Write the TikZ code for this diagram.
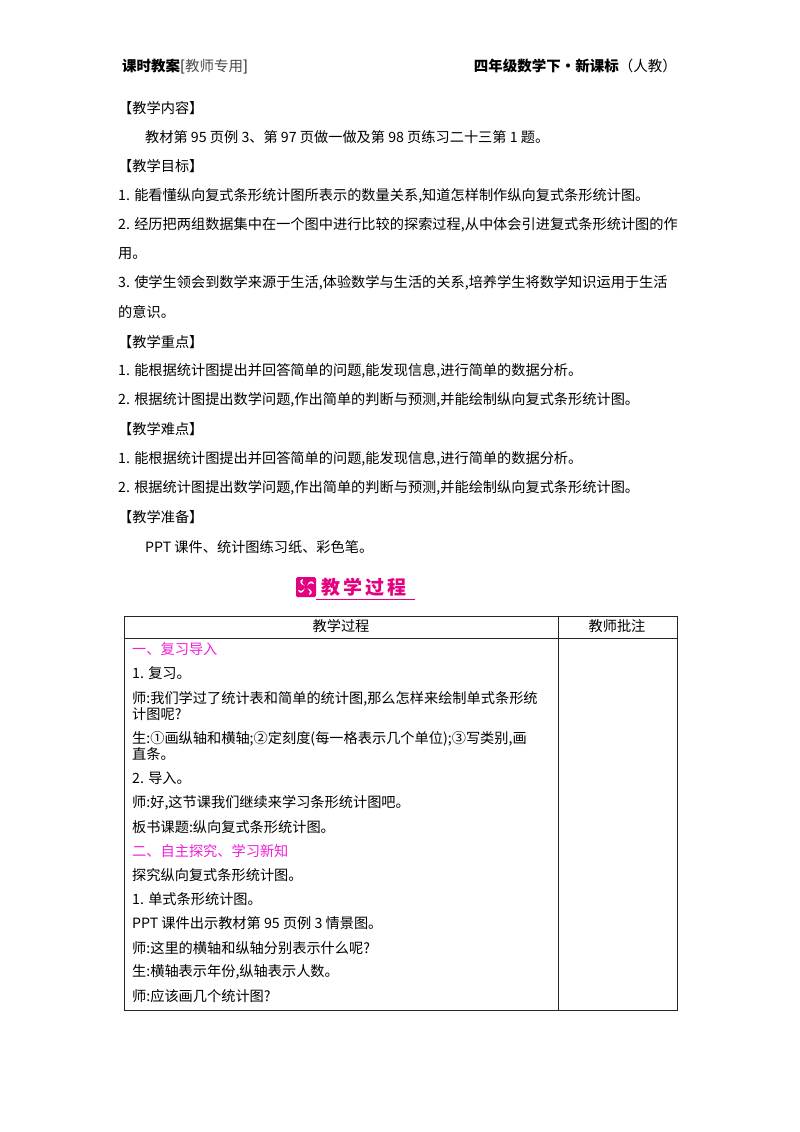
\documentclass[tikz,border=0pt]{standalone}
\usepackage{fontspec}
\setmainfont{Noto Sans CJK SC}
\definecolor{mag}{HTML}{E4007F}
\definecolor{pinkt}{HTML}{F020D8}
\begin{document}
\begin{tikzpicture}[x=1pt,y=-1pt,
  txt/.style={anchor=west,inner sep=0pt,font=\fontsize{14.2}{16.5}\selectfont},
  cell/.style={txt,align=left},
  sect/.style={txt,text=pinkt},
  hd/.style={anchor=west,inner sep=0pt,font=\fontsize{14.5}{16}\selectfont},
  rule/.style={line width=0.8pt,black!85}]
\useasboundingbox[fill=white] (0,0) rectangle (800,1132);
% header
\node[hd] (h1) at (122,66) {\textbf{课时教案}[{\color{black!70}教师专用}]};
\node[hd,anchor=east] (h2) at (677,66) {\textbf{四年级数学下·新课标}（人教）};
% body
\node[txt] (a1) at (118,108) {【教学内容】};
\node[txt] (a2) at (145,137) {教材第 95 页例 3、第 97 页做一做及第 98 页练习二十三第 1 题。};
\node[txt] (a3) at (118,166) {【教学目标】};
\node[txt] (a4) at (118,196) {1. 能看懂纵向复式条形统计图所表示的数量关系,知道怎样制作纵向复式条形统计图。};
\node[txt] (a5) at (118,225) {2. 经历把两组数据集中在一个图中进行比较的探索过程,从中体会引进复式条形统计图的作};
\node[txt] (a6) at (118,254) {用。};
\node[txt] (a7) at (118,283) {3. 使学生领会到数学来源于生活,体验数学与生活的关系,培养学生将数学知识运用于生活};
\node[txt] (a8) at (118,312) {的意识。};
\node[txt] (a9) at (118,342) {【教学重点】};
\node[txt] (a10) at (118,371) {1. 能根据统计图提出并回答简单的问题,能发现信息,进行简单的数据分析。};
\node[txt] (a11) at (118,400) {2. 根据统计图提出数学问题,作出简单的判断与预测,并能绘制纵向复式条形统计图。};
\node[txt] (a12) at (118,429) {【教学难点】};
\node[txt] (a13) at (118,459) {1. 能根据统计图提出并回答简单的问题,能发现信息,进行简单的数据分析。};
\node[txt] (a14) at (118,488) {2. 根据统计图提出数学问题,作出简单的判断与预测,并能绘制纵向复式条形统计图。};
\node[txt] (a15) at (118,517) {【教学准备】};
\node[txt] (a16) at (145,547) {PPT 课件、统计图练习纸、彩色笔。};
% title logo
\fill[mag,rounded corners=1.5pt] (296,577) rectangle (316,597);
\begin{scope}[shift={(306,587)}]
 \foreach \a in {0,90,180,270}{
  \fill[white,rotate=\a] (1,-1) .. controls (3,-7) and (7,-7) .. (8,-3) .. controls (6,-5) and (3,-4) .. (1,-1);}
 \fill[mag] (0,0) circle (1.5);
\end{scope}
\node[anchor=west,inner sep=0pt,text=mag,font=\fontsize{19}{20}\selectfont\bfseries] (ttl) at (321,587) {教\,学\,过\,程};
\draw[mag,line width=0.9pt] (316,599) -- (415,599);
% table
\draw[rule] (124,616) rectangle (677,1010);
\draw[rule] (124,638) -- (677,638);
\draw[rule] (558,616) -- (558,1010);
\node[txt,anchor=center] (c1) at (341,626) {教学过程};
\node[txt,anchor=center] (c2) at (617,626) {教师批注};
\node[sect] (t1) at (132,649) {一、复习导入};
\node[cell] (t2) at (132,673) {1. 复习。};
\node[cell] (t3) at (132,706) {师:我们学过了统计表和简单的统计图,那么怎样来绘制单式条形统\\计图呢?};
\node[cell] (t4) at (132,746) {生:①画纵轴和横轴;②定刻度(每一格表示几个单位);③写类别,画\\直条。};
\node[cell] (t5) at (132,778) {2. 导入。};
\node[cell] (t6) at (132,803) {师:好,这节课我们继续来学习条形统计图吧。};
\node[cell] (t7) at (132,827) {板书课题:纵向复式条形统计图。};
\node[sect] (t8) at (132,851) {二、自主探究、学习新知};
\node[cell] (t9) at (132,875) {探究纵向复式条形统计图。};
\node[cell] (t10) at (132,899) {1. 单式条形统计图。};
\node[cell] (t11) at (132,923) {PPT 课件出示教材第 95 页例 3 情景图。};
\node[cell] (t12) at (132,948) {师:这里的横轴和纵轴分别表示什么呢?};
\node[cell] (t13) at (132,972) {生:横轴表示年份,纵轴表示人数。};
\node[cell] (t14) at (132,996) {师:应该画几个统计图?};
\end{tikzpicture}
\end{document}
